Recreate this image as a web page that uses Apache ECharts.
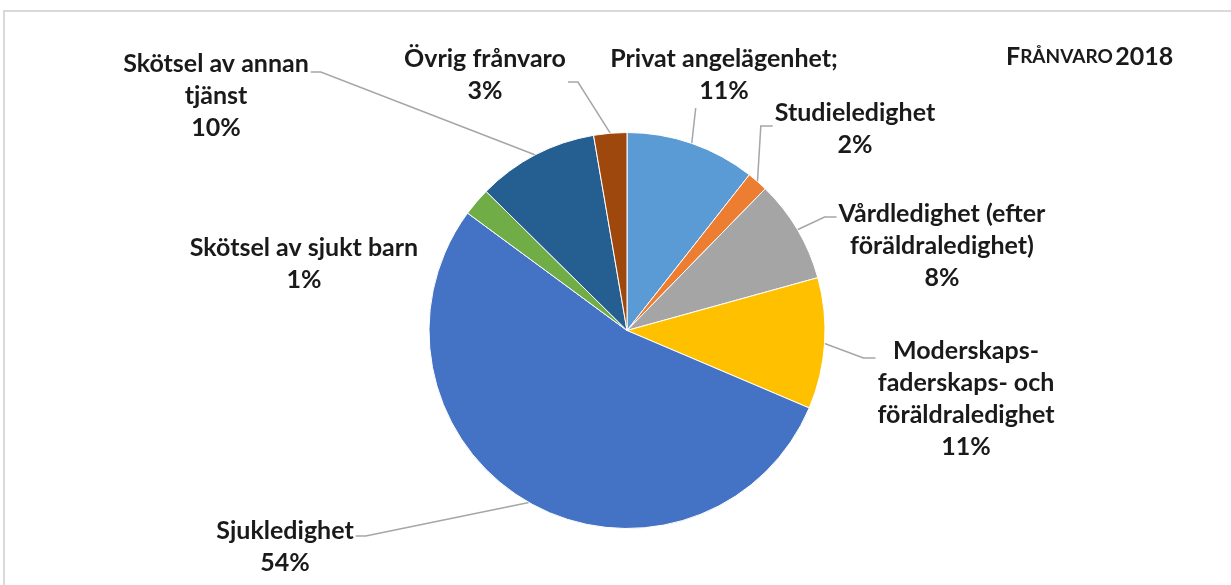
<!DOCTYPE html>
<html><head><meta charset="utf-8">
<script src="https://cdn.jsdelivr.net/npm/echarts@6/dist/echarts.min.js"></script>
<style>html,body{margin:0;padding:0;background:#fff}#c{width:1231px;height:585px}</style>
</head><body><div id="c"></div>
<script>
// ---- data ----
const categories = [
  'Privat angelägenhet;',
  'Studieledighet',
  'Vårdledighet (efter\nföräldraledighet)',
  'Moderskaps-\nfaderskaps- och\nföräldraledighet',
  'Sjukledighet',
  'Skötsel av sjukt barn',
  'Skötsel av annan\ntjänst',
  'Övrig frånvaro'
];
const values = [10.6, 1.7, 8.4, 10.7, 53.7, 2.3, 9.9, 2.7];
const percentLabels = ['11%', '2%', '8%', '11%', '54%', '1%', '10%', '3%'];
const titleParts = ['F', 'RÅNVARO', '2018'];

// ---- styles / layout ----
const colors = ['#5B9BD5', '#ED7D31', '#A5A5A5', '#FFC000', '#4472C4', '#70AD47', '#255E91', '#9E480E'];
const labelPlace = [
  {x: 724, y: 75, side: 'bottom'},
  {x: 855, y: 129, side: 'left', dy: -3},
  {x: 942, y: 246, side: 'left', dy: -29},
  {x: 966, y: 399, side: 'left', dy: -41},
  {x: 285, y: 547, side: 'right', dy: -11},
  {x: 304, y: 264, side: 'none'},
  {x: 216, y: 96, side: 'right', dy: -24},
  {x: 485, y: 75, side: 'right', dy: 7}
];

const chart = echarts.init(document.getElementById('c'), null, {renderer: 'canvas'});
const data = categories.map((n, i) => ({
  name: n, value: values[i],
  itemStyle: {color: colors[i]},
  labelLine: {show: labelPlace[i].side !== 'none'}
}));

chart.setOption({
  animation: false,
  backgroundColor: '#fff',
  graphic: [{
    type: 'rect', z: -10,
    shape: {x: 4, y: 11, width: 1260, height: 620},
    style: {fill: '#fff', stroke: '#d9d9d9', lineWidth: 2}
  }],
  title: {
    text: '{a|' + titleParts[0] + '}{b|' + titleParts[1] + '}{s| }{a|' + titleParts[2] + '}',
    left: 1001, top: 39,
    textStyle: {
      rich: {
        a: {fontFamily: 'Lato', fontWeight: 'bold', fontSize: 25, color: '#1a1a1a'},
        b: {fontFamily: 'Lato', fontWeight: 'bold', fontSize: 19, color: '#1a1a1a'},
        s: {fontFamily: 'Lato', fontSize: 10}
      }
    }
  },
  series: [{
    type: 'pie',
    center: [627, 330.5],
    radius: 198,
    startAngle: 90,
    clockwise: true,
    data: data,
    itemStyle: {borderColor: '#ffffff', borderWidth: 1},
    label: {
      show: true, position: 'outside',
      fontFamily: 'Lato', fontWeight: 'bold', fontSize: 25, lineHeight: 32,
      color: '#1a1a1a',
      formatter: p => p.name + '\n' + percentLabels[p.dataIndex]
    },
    labelLine: {show: true, length: 10, length2: 10, lineStyle: {color: '#a6a6a6', width: 1.5}},
    emphasis: {disabled: true},
    labelLayout: function (p) {
      const c = labelPlace[p.dataIndex];
      const w = p.labelRect.width, h = p.labelRect.height;
      const out = {x: c.x, y: c.y, align: 'center', verticalAlign: 'middle'};
      const lp = p.labelLinePoints;
      if (lp && lp.length && c.side !== 'none') {
        const e = lp[0];
        if (c.side === 'bottom') {
          const a = [e[0] + 4, c.y + h / 2 + 1];
          out.labelLinePoints = [e, a, a];
        } else if (c.side === 'left') {
          const ax = c.x - w / 2 - 2, ay = c.y + c.dy;
          out.labelLinePoints = [e, [ax - 12, ay], [ax, ay]];
        } else {
          const ax = c.x + w / 2 + 2, ay = c.y + c.dy;
          out.labelLinePoints = [e, [ax + 10, ay], [ax, ay]];
        }
      }
      return out;
    }
  }]
});
</script>
</body></html>
